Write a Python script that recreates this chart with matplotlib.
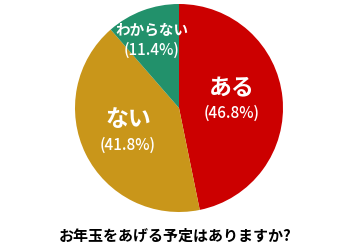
import matplotlib.pyplot as plt

plt.rcParams['font.family'] = ['Noto Sans CJK JP', 'DejaVu Sans']

labels = ['ある', 'ない', 'わからない']
shares = [46.8, 41.8, 11.4]
colors = ['#cc0000', '#c9961a', '#22916b']
title = 'お年玉をあげる予定はありますか?'


def draw_chart():
    fig = plt.figure(figsize=(3.5, 2.5), dpi=100)
    ax = fig.add_axes([0, 0, 1, 1])

    # y軸を反転するので、-90度から反時計回り = 見た目は12時から時計回り
    ax.pie(shares, colors=colors, startangle=-90, counterclock=True,
           center=(179, 108), radius=104, frame=True)
    ax.set_xlim(0, 350)
    ax.set_ylim(250, 0)
    ax.set_aspect('equal')
    ax.axis('off')

    # (x, y, 文字サイズ, 割合のy)
    pos = [(232, 89, 16.5, 113), (128, 120, 16.5, 145), (152, 30, 10.5, 50)]
    for (x, y, size, py), name, val in zip(pos, labels, shares):
        ax.text(x, y, name, color='white', fontsize=size, fontweight='bold',
                ha='center', va='center')
        ax.text(x, py, '(%.1f%%)' % val, color='white',
                fontsize=11, fontweight='medium', ha='center', va='center')

    ax.text(175, 236, title, fontsize=10.8, fontweight='bold',
            ha='center', va='center')

    plt.savefig('out.png')


if __name__ == '__main__':
    draw_chart()
